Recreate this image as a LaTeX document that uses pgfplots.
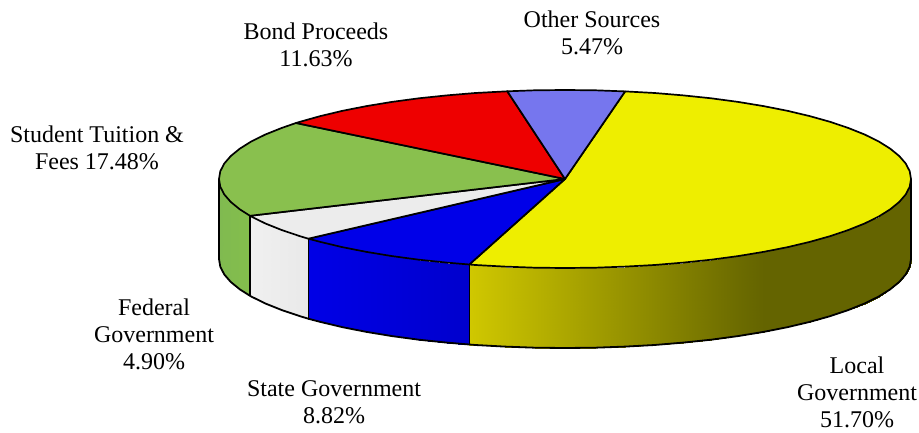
\documentclass[border=0pt]{standalone}
\usepackage{pgfplots}
\pgfplotsset{compat=1.18}
\usepackage{fontspec}
\setmainfont{Liberation Serif}
\definecolor{cyel}{RGB}{238,238,0}
\definecolor{cblu}{RGB}{0,0,232}
\definecolor{cwht}{RGB}{236,236,236}
\definecolor{cgrn}{RGB}{137,192,78}
\definecolor{cred}{RGB}{238,0,0}
\definecolor{cpur}{RGB}{118,118,238}
\pgfplotsset{
 colormap={yel}{rgb255=(208,200,0) rgb255=(100,100,0)},
 colormap={blu}{rgb255=(0,0,205) rgb255=(0,0,230)},
 colormap={wht}{rgb255=(233,233,233) rgb255=(240,240,240)},
 colormap={grn}{rgb255=(132,190,76) rgb255=(128,186,80)},
}
\begin{document}
\begin{tikzpicture}[x=1pt,y=1pt]
\useasboundingbox (0,0) rectangle (919,433);
\begin{axis}[at={(0,0)},anchor=south west,scale only axis,width=919pt,height=433pt,
 xmin=0,xmax=919,ymin=0,ymax=433,y dir=reverse,hide axis,clip=false,
 point meta min=0,point meta max=1]
% side walls
\addplot[surf,shader=interp,colormap name=yel,mesh/cols=2,point meta=explicit] table[x=x,y=y,meta=m] {
x y m
911 179 1
911 259 1
909.7 186.8 1
909.7 266.8 1
905.7 194.5 1
905.7 274.5 1
899.2 202 1
899.2 282 1
890.1 209.4 1
890.1 289.4 1
878.6 216.6 1
878.6 296.6 1
864.6 223.5 1
864.6 303.5 1
848.4 230 1
848.4 310 1
830 236.2 1
830 316.2 1
809.7 241.9 1
809.7 321.9 1
787.4 247.2 1
787.4 327.2 1
763.5 251.9 1
763.5 331.9 1
738 256.1 .924
738 336.1 .924
711.2 259.7 .832
711.2 339.7 .832
683.3 262.6 .736
683.3 342.6 .736
654.6 265 .638
654.6 345 .638
625.1 266.6 .536
625.1 346.6 .536
595.2 267.7 .434
595.2 347.7 .434
565 268 .33
565 348 .33
534.8 267.7 .226
534.8 347.7 .226
504.9 266.6 .123
504.9 346.6 .123
475.4 265 .022
475.4 345 .022
469.3 264.5 0
469.3 344.5 0
};
\addplot[surf,shader=interp,colormap name=blu,mesh/cols=2,point meta=explicit] table[x=x,y=y,meta=m] {
x y m
469.3 264.5 0
469.3 344.5 0
446.7 262.6 .14
446.7 342.6 .14
418.8 259.7 .31
418.8 339.7 .31
392 256.1 .48
392 336.1 .48
366.5 251.9 .64
366.5 331.9 .64
342.6 247.2 .79
342.6 327.2 .79
320.3 241.9 .93
320.3 321.9 .93
308.3 238.7 1
308.3 318.7 1
};
\addplot[surf,shader=interp,colormap name=wht,mesh/cols=2,point meta=explicit] table[x=x,y=y,meta=m] {
x y m
308.3 238.7 0
308.3 318.7 0
300 236.2 .14
300 316.2 .14
281.6 230 .46
281.6 310 .46
265.4 223.5 .74
265.4 303.5 .74
251.4 216.6 .98
251.4 296.6 .98
250 215.8 1
250 295.8 1
};
\addplot[surf,shader=interp,colormap name=grn,mesh/cols=2,point meta=explicit] table[x=x,y=y,meta=m] {
x y m
250 215.8 0
250 295.8 0
239.9 209.4 .33
239.9 289.4 .33
230.8 202 .62
230.8 282 .62
224.3 194.5 .83
224.3 274.5 .83
220.3 186.8 .96
220.3 266.8 .96
219 179 1
219 259 1
};
% side outlines
\addplot[draw=black,line width=1.8pt,no marks,line join=round] coordinates {
(219,179)(219,259)(220.3,266.8)(224.3,274.5)(230.8,282)(239.9,289.4)(250,295.8)(251.4,296.6)(265.4,303.5)(281.6,310)(300,316.2)(308.3,318.7)(320.3,321.9)(342.6,327.2)(366.5,331.9)(392,336.1)(418.8,339.7)(446.7,342.6)(469.3,344.5)(475.4,345)(504.9,346.6)(534.8,347.7)(565,348)(595.2,347.7)(625.1,346.6)(654.6,345)(683.3,342.6)(711.2,339.7)(738,336.1)(763.5,331.9)(787.4,327.2)(809.7,321.9)(830,316.2)(848.4,310)(864.6,303.5)(878.6,296.6)(890.1,289.4)(899.2,282)(905.7,274.5)(909.7,266.8)(911,259)(911,179)};
\addplot[draw=black,line width=1.5pt,no marks] coordinates {(250,215.8)(250,295.8)};
\addplot[draw=black,line width=1.5pt,no marks] coordinates {(308.3,238.7)(308.3,318.7)};
\addplot[draw=black,line width=1.5pt,no marks] coordinates {(469.3,264.5)(469.3,344.5)};
% top slices
\addplot[fill=cyel,draw=black,line width=1.7pt,line join=round,no marks] coordinates {
(565,179)(625.1,91.4)(654.6,93)(683.3,95.4)(711.2,98.3)(738,101.9)(763.5,106.1)(787.4,110.8)(809.7,116.1)(830,121.8)(848.4,128)(864.6,134.5)(878.6,141.4)(890.1,148.6)(899.2,156)(905.7,163.5)(909.7,171.2)(911,179)(909.7,186.8)(905.7,194.5)(899.2,202)(890.1,209.4)(878.6,216.6)(864.6,223.5)(848.4,230)(830,236.2)(809.7,241.9)(787.4,247.2)(763.5,251.9)(738,256.1)(711.2,259.7)(683.3,262.6)(654.6,265)(625.1,266.6)(595.2,267.7)(565,268)(534.8,267.7)(504.9,266.6)(475.4,265)(469.3,264.5)} --cycle;
\addplot[fill=cblu,draw=black,line width=1.7pt,line join=round,no marks] coordinates {
(565,179)(469.3,264.5)(446.7,262.6)(418.8,259.7)(392,256.1)(366.5,251.9)(342.6,247.2)(320.3,241.9)(308.3,238.7)} --cycle;
\addplot[fill=cwht,draw=black,line width=1.7pt,line join=round,no marks] coordinates {
(565,179)(308.3,238.7)(300,236.2)(281.6,230)(265.4,223.5)(251.4,216.6)(250,215.8)} --cycle;
\addplot[fill=cgrn,draw=black,line width=1.7pt,line join=round,no marks] coordinates {
(565,179)(250,215.8)(239.9,209.4)(230.8,202)(224.3,194.5)(220.3,186.8)(219,179)(220.3,171.2)(224.3,163.5)(230.8,156)(239.9,148.6)(251.4,141.4)(265.4,134.5)(281.6,128)(296,123)} --cycle;
\addplot[fill=cred,draw=black,line width=1.7pt,line join=round,no marks] coordinates {
(565,179)(296,123)(300,121.8)(320.3,116.1)(342.6,110.8)(366.5,106.1)(392,101.9)(418.8,98.3)(446.7,95.4)(475.4,93)(507.3,91.3)} --cycle;
\addplot[fill=cpur,draw=black,line width=1.7pt,line join=round,no marks] coordinates {
(565,179)(507.3,91.3)(534.8,90.3)(565,90)(595.2,90.3)(625.1,91.4)} --cycle;
% labels
\node[align=center,font=\fontsize{24}{27}\selectfont] at (axis cs:316,45) {Bond Proceeds\\11.63\%};
\node[align=center,font=\fontsize{24}{27}\selectfont] at (axis cs:592,33) {Other Sources\\5.47\%};
\node[align=center,font=\fontsize{24}{27}\selectfont] at (axis cs:97,148) {Student Tuition \&\\Fees 17.48\%};
\node[align=center,font=\fontsize{24}{27}\selectfont] at (axis cs:154,334) {Federal\\Government\\4.90\%};
\node[align=center,font=\fontsize{24}{27}\selectfont] at (axis cs:334,402) {State Government\\8.82\%};
\node[align=center,font=\fontsize{24}{27}\selectfont] at (axis cs:857,392) {Local\\Government\\51.70\%};
\end{axis}
\end{tikzpicture}
\end{document}
